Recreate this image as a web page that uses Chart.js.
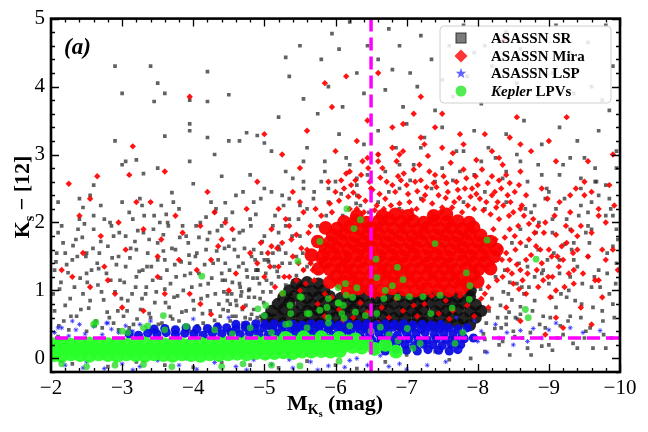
<!DOCTYPE html>
<html>
<head>
<meta charset="utf-8">
<script src="https://cdn.jsdelivr.net/npm/chart.js@4.4.0/dist/chart.umd.min.js"></script>
<style>
  html, body { margin: 0; padding: 0; background: #fff; }
</style>
</head>
<body>
<canvas id="js-chart" width="648" height="432"></canvas>
<script>
'use strict';

// axis ticks and reference lines
const xTicks = [-2, -3, -4, -5, -6, -7, -8, -9, -10];
const yTicks = [0, 1, 2, 3, 4, 5];
const vLineX = -6.5;
const hLineY = 0.30;
const seriesNames = ['ASASSN SR', 'ASASSN Mira', 'ASASSN LSP', 'Kepler LPVs'];

// all point lists are flat: x (M_Ks), y (Ks-[12]), x, y, ...

// ASASSN SR, scattered
const srPoints = [
  -2.9,4.3,-3.4,4.3,-3.0,3.9,-3.5,4.05,-3.6,3.9,-3.45,3.78,-3.95,3.8,-4.2,4.22,-4.2,3.78,-4.5,3.88,
  -3.95,3.45,-3.95,3.35,-2.9,3.2,-3.0,2.85,-3.05,2.9,-3.2,2.92,-3.3,2.72,-3.5,2.8,-3.6,3.27,-4.2,3.25,
  -4.3,3.0,-4.5,3.2,-4.4,2.68,-4.0,2.57,-3.7,2.44,-2.45,2.22,-2.6,2.55,-2.4,2.35,-4.45,2.29,-3.95,2.9,
  -4.75,3.32,-4.9,3.28,-4.65,3.2,-5.0,3.17,-5.1,3.05,-4.8,2.7,-5.3,4.43,-5.35,4.15,-5.5,4.6,-5.55,3.82,
  -5.2,3.55,-5.8,4.4,-5.9,4.0,-5.75,3.6,-6.05,4.55,-6.2,4.95,-6.1,3.7,-6.3,4.2,-6.4,3.9,-6.05,3.3,
  -5.6,3.1,-5.85,2.9,-6.2,2.85,-6.4,3.15,-5.3,2.75,-5.55,2.6,-5.9,2.5,-6.3,2.55,-5.0,2.5,-4.7,2.45,
  -6.45,4.6,-5.95,4.78,-6.6,4.4,-6.75,4.85,-6.9,4.6,-7.05,4.2,-7.2,4.75,-7.35,4.4,-7.6,4.6,-7.8,4.9,
  -7.95,4.5,-8.2,4.3,-8.4,4.8,-8.6,4.55,-8.75,4.2,-9.1,4.9,-9.3,4.5,-9.55,4.65,-9.8,4.9,-9.9,4.3,
  -6.7,3.95,-6.95,3.7,-7.15,4.0,-7.4,3.65,-7.65,3.85,-7.85,4.15,-8.05,3.75,-8.3,3.95,-8.55,4.05,-8.85,3.85,
  -9.05,4.2,-9.35,3.9,-9.6,4.0,-9.85,3.65,-6.6,3.35,-6.85,3.1,-7.0,3.45,-7.25,3.25,-7.5,3.4,-7.7,3.05,
  -7.95,3.35,-8.15,3.1,-8.4,3.3,-8.65,3.5,-8.9,3.15,-9.15,3.4,-9.4,3.2,-9.7,3.35,-9.95,3.05,-9.5,2.95,
  -9.2,2.85,-8.9,2.7,-9.65,2.6,-9.85,2.35,-8.6,2.9,-6.7,2.75,-7.1,2.85,-7.4,2.6,-7.75,2.75,-8.05,2.9,
  -8.35,2.65,-6.9,2.5,-9.45,2.5,-9.95,2.8,-9.75,3.8,-8.1,4.6,-7.5,4.1,-6.8,4.25,
  -5.25,2.4,-5.4,2.65,-5.55,2.9,-5.7,2.45,-5.85,2.75,-6.0,2.6,-6.15,2.95,-6.3,2.4,-6.45,2.7,-6.6,3.0,
  -6.75,2.45,-6.9,2.85,-7.05,2.62,-7.2,3.1,-7.35,2.5,-7.5,2.8,-7.65,2.62,-7.8,3.05,-7.95,2.7,-8.1,2.45,
  -8.25,2.95,-8.4,2.75,-8.55,3.0,-8.7,2.6,-8.85,2.85,-9.0,2.45,-9.15,2.7,-9.3,2.95,-9.45,2.65,-9.6,2.3,
  -5.5,2.25,-5.35,2.05,-5.2,1.85,-8.8,2.25,-9.05,2.05,-9.3,1.9,-9.55,1.95,-9.8,2.55,-9.65,2.8,-9.9,2.1,
  -2.1,1.85,-2.2,1.55,-2.3,1.45,-2.35,1.75,-2.5,1.55,-2.6,1.9,-2.65,1.4,-2.8,1.65,-2.85,1.95,-2.95,1.5,
  -3.05,1.8,-3.1,2.15,-3.2,1.6,-3.3,1.85,-3.35,1.35,-3.45,2.1,-3.5,1.7,-3.6,1.45,-3.65,1.95,-3.75,1.6,
  -3.8,2.2,-3.9,1.8,-3.95,1.4,-2.7,2.25,-3.0,2.3,-3.25,2.35,-3.55,2.25,-2.4,2.05,-2.05,1.3,-2.5,1.25,
  -4.05,1.55,-4.1,2.0,-4.2,1.75,-4.25,2.3,-4.35,1.45,-4.4,1.95,-4.5,1.65,-4.55,2.15,-4.65,1.85,-4.7,1.4,
  -4.8,2.05,-4.85,1.6,-4.95,2.35,-5.0,1.8,-5.05,1.45,-5.15,2.1,-5.2,1.65,-5.3,1.95,-5.35,2.35,-5.45,1.5,
  -5.5,1.8,-5.6,2.2,-5.65,1.4,-5.75,1.95,-5.85,1.6,-5.9,2.3,-6.0,1.75,-6.1,2.1,-6.15,1.5,-6.25,1.9,
  -6.35,2.25,-6.4,1.6,-4.3,2.15,-4.9,1.3,-5.55,1.3,-6.05,1.35,
  -6.6,2.3,-6.9,2.2,-7.2,2.35,-7.5,2.15,-7.8,2.3,-8.1,2.2,-8.4,2.3,-8.6,1.9,-8.75,2.15,-8.85,1.6,
  -8.95,2.35,-9.05,1.85,-9.15,1.45,-9.25,2.05,-9.35,1.7,-9.45,2.25,-9.55,1.5,-9.6,1.9,-9.7,1.3,-9.8,2.1,
  -9.9,1.65,-9.95,1.4,-8.7,1.35,-9.0,1.1,-9.3,1.2,-9.6,1.05,-9.85,0.95,-8.8,0.85,-9.1,0.75,-9.45,0.6,
  -9.75,0.7,-8.6,0.65,-8.95,0.45,-9.2,0.35,-9.5,0.3,-8.5,0.4,-8.3,0.2,-8.7,0.15,-9.0,0.2,-8.1,0.1,
  -7.9,0.0,-8.45,0.05,-8.55,1.1,-8.9,1.25,-9.25,0.9,-8.65,0.95,-8.4,0.6,-9.35,1.45,
  -2.05,.7,-2.12,1.02,-2.18,.55,-2.22,1.38,-2.27,.88,-2.31,1.66,-2.36,.62,-2.41,1.18,-2.45,.95,-2.49,1.5,
  -2.53,.74,-2.57,1.3,-2.62,.48,-2.66,1.08,-2.7,1.72,-2.74,.86,-2.78,1.25,-2.82,.6,-2.86,1.48,-2.9,.98,
  -2.94,.7,-2.97,1.15,-2.15,1.95,-2.38,1.9,-2.6,2.1,-2.83,2.0,-2.25,.42,-2.5,.4,-2.72,.45,-2.95,.42,
  -2.08,1.55,-2.44,1.78,-2.68,1.55,-2.88,1.8,-2.1,2.3,-2.55,2.4,
  -3.02,.62,-3.05,1.35,-3.08,.85,-3.12,1.62,-3.16,.5,-3.19,1.05,-3.22,1.88,-3.26,.72,-3.29,1.3,-3.33,.95,
  -3.36,1.55,-3.4,.6,-3.43,1.15,-3.46,.82,-3.5,1.45,-3.53,2.0,-3.56,.52,-3.6,1.02,-3.63,1.3,-3.66,.75,
  -3.7,1.62,-3.73,.9,-3.76,1.2,-3.8,.55,-3.83,1.42,-3.86,1.0,-3.9,.7,-3.93,1.7,-3.96,1.25,-4.0,.85,
  -4.03,1.5,-4.06,.48,-4.1,1.08,-4.13,.66,-4.16,1.38,-4.2,.92,-4.23,1.85,-4.26,1.18,-4.3,.56,-4.33,1.58,
  -4.36,.8,-4.4,1.25,-4.43,.98,-4.46,2.05,-4.49,.7,-3.15,2.05,-3.38,1.75,-3.62,2.12,-3.85,1.95,-4.08,1.78,
  -4.32,2.2,-3.28,2.25,-3.72,2.3,-4.18,2.08,-3.45,.42,-3.95,.4,-4.25,.42,-3.1,.45,-3.58,1.82,-4.45,1.4,
  -3.2,1.2,-3.68,.62,
  -2.03,.95,-2.07,1.42,-2.11,.48,-2.14,1.12,-2.17,1.7,-2.2,.78,-2.24,1.26,-2.28,.62,-2.33,1.05,-2.37,1.5,
  -2.42,.72,-2.47,1.98,-2.51,1.12,-2.55,.85,-2.59,1.62,-2.63,.55,-2.67,1.32,-2.71,.98,-2.75,2.05,-2.79,.68,
  -2.84,1.15,-2.88,.52,-2.92,1.38,-2.96,1.85,-2.99,.88,
  -3.03,1.12,-3.07,.7,-3.11,1.48,-3.14,.95,-3.18,1.72,-3.21,.58,-3.24,1.28,-3.28,.88,-3.31,2.1,-3.34,1.05,
  -3.38,.66,-3.41,1.35,-3.44,1.9,-3.48,.98,-3.51,.5,-3.54,1.18,-3.58,1.58,-3.61,.82,-3.64,2.0,-3.68,1.1,
  -3.71,.58,-3.74,1.38,-3.78,.92,-3.81,1.78,-3.84,.68,-3.88,1.22,-3.91,.48,-3.94,1.52,-3.98,1.05,-4.01,.72,
  -4.04,1.95,-4.08,1.25,-4.11,.88,-4.14,.52,-4.18,1.6,-4.21,1.1,-4.24,.7,-4.28,1.4,-4.31,.95,-4.34,1.88,
  -4.38,.62,-4.41,1.15,-4.44,1.62,-4.48,.85,-4.51,1.3,-4.54,.95,-4.57,1.75,-4.6,.62,-4.63,1.5,-4.66,1.05,
  -4.69,.72,-4.72,1.62,-4.75,1.3,-4.78,.9,-4.81,1.95,-4.84,1.18,-4.87,1.45,-4.9,.6,-4.93,1.1,-4.96,1.55,
  -4.99,.82,
  -4.35,.5,-4.42,.72,-4.48,.95,-4.55,.62,-4.6,.85,-4.65,1.1,-4.7,.52,-4.74,.78,-4.78,1.0,-4.82,.65,
  -4.86,.9,-4.9,1.18,-4.94,.55,-4.98,.98,-5.02,1.25,-5.06,.72,-5.1,1.1,-5.14,1.35,-5.2,1.2,-5.25,1.4,
  -4.45,1.15,-4.52,.8,-4.68,.98,-4.8,.58,-4.88,1.3,-5.0,1.45,-5.12,1.55,-5.3,1.55,
  -4.52,.55,-4.55,1.12,-4.58,1.6,-4.61,.78,-4.64,1.35,-4.67,.92,-4.7,1.88,-4.73,.6,-4.76,1.2,-4.79,1.02,
  -4.82,1.5,-4.85,.72,-4.88,2.12,-4.91,1.3,-4.94,.88,-4.97,1.72,-5.0,.52,-5.03,1.15,-5.06,1.42,-5.09,.98,
  -5.12,1.95,-5.15,.68,-5.18,1.28,-5.21,1.6,-5.24,.85,-5.27,2.25,-5.3,1.08,-5.33,.58,-5.36,1.4,-5.39,1.8,
  -5.42,.95,-5.45,1.22,-5.48,2.05,-5.51,.75,-5.54,1.55,-5.57,1.0,-5.6,1.35,-5.63,.62,-5.66,1.12,-5.69,2.35,
  -5.72,.88,-5.75,1.25,-5.78,.52,-5.81,1.42,-5.84,1.02,-5.87,2.1,-5.9,.7,-5.93,1.18,-5.96,.92,-5.99,1.62,
  -6.02,.6,-6.05,1.3,-6.08,2.42,-6.11,.82,-6.14,1.2,-6.17,1.98,-6.2,.98,-6.23,.66,-6.26,1.12,-6.29,2.28,
  -6.32,.8,-6.35,1.05,-6.38,.58,-6.41,1.68,-6.44,.9,-6.47,2.15,-4.6,2.4,-4.85,2.3,-5.1,2.45,-5.55,2.5,
  -5.8,2.6,-6.3,2.65,-4.75,.45,-5.25,.45,-5.65,.42,-6.15,.44,-4.95,.62,-5.35,.78,-5.88,.8,-6.4,.72,
  -8.0,.8,-8.04,1.02,-8.08,.36,-8.12,.52,-8.16,.7,-8.2,.88,-8.24,.44,-8.28,.6,-8.32,.78,-8.36,.98,
  -8.4,.5,-8.44,.68,-8.48,.86,-8.52,.32,-8.56,.58,-8.6,.76,-7.9,1.15,-8.25,1.2,-8.45,1.12,-7.7,1.1,
  -8.1,.28,-7.62,.3,-8.35,.25,
  -8.62,1.05,-8.68,1.65,-8.74,.38,-8.8,1.2,-8.86,2.0,-8.92,.62,-8.98,1.45,-9.04,.9,-9.1,2.2,-9.16,.48,
  -9.22,1.68,-9.28,1.0,-9.34,.22,-9.4,1.35,-9.46,.8,-9.52,1.85,-9.58,.45,-9.64,1.2,-9.7,2.4,-9.76,.55,
  -9.82,1.55,-9.88,.3,-9.94,1.1,-9.62,.15,-9.9,.8,-9.3,.62,-8.9,.18,-9.15,1.25,-9.55,2.15,-9.95,1.9,
  -8.33,.45,-8.38,1.3,-8.43,.95,-8.48,1.7,-8.53,.6,-8.58,1.4,-8.63,.3,-8.67,2.2,-8.72,1.05,-8.77,.7,
  -8.82,1.85,-8.87,.5,-8.92,1.3,-8.97,2.5,-9.02,.6,-9.07,1.55,-9.12,.3,-9.17,.95,-9.22,2.35,-9.27,.55,
  -9.32,1.6,-9.37,.85,-9.42,2.1,-9.47,1.1,-9.52,.4,-9.57,1.7,-9.62,.75,-9.67,2.6,-9.72,1.05,-9.77,.35,
  -9.82,1.25,-9.87,2.2,-9.92,.6,-9.97,1.75,-9.4,.15,-9.05,.12,-8.75,.05,-9.8,.15,
  -2.3,-0.08,-2.8,-0.12,-3.2,-0.05,-3.6,-0.1,-4.0,-0.13,-4.4,-0.06,-4.8,-0.1,-5.2,-0.14,-5.6,-0.04,-6.0,-0.1,
  -6.3,-0.15,-2.1,0.32,-6.7,-0.05,-7.0,0.05,-7.4,0.1,-7.6,-0.02
];

// ASASSN SR, crowded core below the Mira cloud
const srDense = [
  -5.1,.5,-5.27,.52,-5.43,.49,-5.6,.5,-5.76,.51,-5.92,.49,-6.08,.5,
  -6.25,.52,-6.41,.49,-6.58,.5,-6.74,.51,-6.9,.49,-7.07,.5,-7.23,.52,-7.4,.49,-7.56,.5,-7.72,.51,-7.89,.49,
  -5.03,.6,-5.19,.62,-5.35,.59,-5.52,.6,-5.68,.61,-5.84,.59,-6.0,.6,
  -6.17,.62,-6.33,.59,-6.49,.6,-6.66,.61,-6.82,.59,-6.98,.6,-7.15,.62,-7.31,.59,-7.47,.6,-7.64,.61,-7.8,.59,-7.97,.6,
  -5.1,.7,-5.27,.72,-5.43,.69,-5.6,.7,-5.76,.71,-5.92,.69,-6.08,.7,
  -6.25,.72,-6.41,.69,-6.58,.7,-6.74,.71,-6.9,.69,-7.07,.7,-7.23,.72,-7.4,.69,-7.56,.7,-7.72,.71,-7.89,.69,-8.05,.7,
  -5.19,.8,-5.35,.82,-5.52,.79,-5.68,.8,-5.84,.81,-6.0,.79,-6.17,.8,
  -6.33,.82,-6.49,.79,-6.66,.8,-6.82,.81,-6.98,.79,-7.15,.8,-7.31,.82,-7.47,.79,-7.64,.8,-7.8,.81,-7.97,.79,
  -5.27,.9,-5.43,.92,-5.6,.89,-5.76,.9,-5.92,.91,-6.08,.89,-6.25,.9,
  -6.41,.92,-6.58,.89,-6.74,.9,-6.9,.91,-7.07,.89,-7.23,.9,-7.4,.92,-7.56,.89,-7.72,.9,-7.89,.91,
  -5.35,1.0,-5.52,1.02,-5.68,.99,-5.84,1.0,-7.9,1.0,
  -5.45,1.1,-5.6,1.12,-5.76,1.1
];

// ASASSN Mira, scattered
const miraPoints = [
  -2.25,2.57,-2.55,2.35,-2.65,2.68,-2.4,2.1,-3.15,3.12,-3.1,2.7,-3.6,2.75,-3.4,2.3,-3.95,3.85,-4.2,2.45,
  -4.3,2.15,-4.1,1.95,-3.85,1.85,-3.55,1.75,-3.3,1.9,-3.05,1.6,-2.75,1.35,-2.3,1.2,-2.55,1.05,-2.9,0.95,
  -3.5,1.2,-3.8,1.45,-4.05,1.3,-4.35,1.65,-4.55,1.9,-4.75,2.2,-4.9,2.6,-5.0,3.3,-5.25,3.0,-4.5,1.0,
  -3.95,0.95,-3.3,0.7,-4.8,1.55,-4.6,1.25,-5.4,2.45,-5.5,2.8,-5.6,3.35,-5.9,2.6,-6.0,3.05,-6.2,2.75,
  -6.3,3.2,-4.25,0.65,-4.7,0.75,-6.15,4.15,-5.85,4.05,-5.95,3.7,-6.6,4.2,-7.2,3.85,-7.5,3.6,-8.55,3.55,
  -8.36,4.68,-2.15,1.3,-4.4,1.75,-8.3,2.95,-8.6,2.75,-8.9,2.5,-9.1,2.9,-9.3,2.4,-9.5,2.6,-9.7,2.2,
  -9.9,3.0,-9.85,2.55,-9.8,1.45,-9.35,1.1,-9.75,0.9,-9.55,2.9,-9.0,3.2,-8.75,3.05,-8.45,3.25,-8.1,3.3,
  -7.8,3.15,-7.5,3.1,-7.2,3.25,-6.9,3.0,-6.6,2.9,-9.92,2.25,-9.97,1.3,-6.8,3.4,-7.1,3.6,-6.45,3.5,
  -9.25,3.55,-6.95,3.45,-7.4,3.4,-7.75,3.3,-8.2,3.05,-8.6,3.15,-9.6,2.45,-9.8,2.0,-9.7,1.15,-9.9,1.6,
  -4.45,2.0,-4.25,1.45,-3.75,2.1,-3.5,1.5,-3.2,2.3,-2.95,2.0,-2.7,1.8,-2.45,1.55,-2.8,1.15,-3.6,.95,
  -4.1,.8,-3.0,.75,-9.45,.75,-9.6,.5,-9.2,.45,-8.95,.35,-9.1,.6,-8.4,.75,-8.6,.55,
  -5.95,2.15,-6.05,2.32,-6.12,2.5,-6.2,2.2,-6.28,2.62,-6.33,2.38,-6.4,2.15,-6.46,2.8,-6.52,2.48,-6.58,2.25,
  -6.63,2.66,-6.7,2.35,-6.75,2.12,-6.8,2.55,-6.86,2.9,-6.9,2.28,-6.96,2.72,-7.02,2.42,-7.07,2.18,-7.12,2.6,
  -7.18,2.85,-7.23,2.33,-7.28,2.52,-7.34,2.14,-7.4,2.7,-7.45,2.4,-7.5,2.22,-7.56,2.58,-7.62,2.88,-7.67,2.3,
  -7.72,2.48,-7.78,2.15,-7.84,2.65,-7.9,2.38,-7.95,2.2,-8.0,2.55,-8.06,2.78,-8.12,2.3,-8.18,2.12,-8.24,2.45,
  -8.3,2.62,-8.36,2.25,-8.42,2.4,-8.5,2.15,-8.58,2.55,-6.15,2.72,-6.38,2.9,-6.6,3.0,-6.95,3.05,-7.3,2.98,
  -7.65,3.02,-7.98,2.92,-8.35,2.85,-6.25,2.44,-6.68,2.2,-7.15,2.46,-7.55,2.36,-7.98,2.42,-8.45,2.58,-6.48,2.6,
  -6.92,2.62,-7.38,2.58,-7.82,2.5,-8.2,2.68,
  -5.92,2.28,-6.0,2.45,-6.08,2.62,-6.18,2.38,-6.22,2.55,-6.3,2.2,-6.36,2.7,-6.42,2.32,-6.5,2.5,-6.55,2.18,
  -6.62,2.42,-6.66,2.8,-6.72,2.6,-6.78,2.25,-6.84,2.45,-6.88,2.68,-6.94,2.16,-7.0,2.55,-7.04,2.3,-7.1,2.78,
  -7.14,2.2,-7.2,2.62,-7.26,2.4,-7.32,2.75,-7.36,2.28,-7.42,2.52,-7.48,2.16,-7.52,2.68,-7.58,2.45,-7.64,2.22,
  -7.7,2.6,-7.74,2.36,-7.8,2.78,-7.86,2.25,-7.92,2.5,-7.97,2.68,-8.03,2.35,-8.08,2.18,-8.14,2.58,-8.2,2.4,
  -8.26,2.22,-8.33,2.5,-8.4,2.7,-8.46,2.3,-8.52,2.45,-8.6,2.2,-8.68,2.4,-6.45,2.95,-6.8,3.1,-7.25,3.15,
  -8.15,1.05,-8.2,1.4,-8.25,1.75,-8.3,2.05,-8.35,1.2,-8.4,1.55,-8.45,1.9,-8.5,1.1,-8.55,1.38,-8.6,1.7,
  -8.65,2.1,-8.7,1.25,-8.75,1.52,-8.8,1.85,-8.85,1.05,-8.9,1.4,-8.95,2.0,-9.0,1.6,-9.05,1.2,-9.1,1.82,
  -9.15,2.3,-9.2,1.45,-9.25,1.7,-9.3,2.15,-9.35,1.3,-9.4,1.6,-9.45,1.95,-9.5,2.4,-8.32,1.62,-8.52,1.8,
  -8.72,1.98,-8.92,1.15,-9.12,1.5,-9.32,1.88,-8.28,2.3,-8.62,2.25,-8.98,2.35,-9.55,1.5,-9.6,1.85,-9.65,1.15,
  -8.42,1.3,-8.82,1.65,-9.22,1.05,-8.58,1.02,-9.38,2.5,-9.7,2.1,-9.75,1.6,-9.48,1.25,-8.68,.95,-9.02,.9,
  -8.12,1.3,-8.18,1.6,-8.22,1.9,-8.27,1.15,-8.34,1.45,-8.38,1.78,-8.44,2.1,-8.48,1.25,-8.53,1.6,-8.57,1.95,
  -8.63,1.15,-8.68,1.45,-8.72,1.75,-8.78,2.05,-8.83,1.3,-8.88,1.6,-8.93,1.85,-8.99,1.2,-9.04,1.5,-9.08,2.1,
  -9.14,1.35,-9.18,1.65,-9.24,1.95,-9.28,1.25,-9.34,1.55,-9.4,1.8,-8.45,1.45,-8.85,1.95,-9.1,1.0,-8.6,1.3,
  -5.0,1.2,-5.05,1.55,-5.1,1.9,-5.15,1.05,-5.2,1.35,-5.25,1.7,-5.3,2.05,-5.35,1.2,-5.4,1.5,-5.45,1.82,
  -5.5,1.0,-5.55,1.3,-5.6,1.6,-5.65,1.95,-5.7,1.15,-5.75,1.45,-5.8,2.1,-5.85,.95,-5.25,.95,-5.45,1.15,
  -5.55,2.15,-5.65,1.4,-5.1,1.65,-5.35,1.95,-5.78,1.75,-4.9,1.4,-5.5,2.3,-5.72,2.2,-5.2,2.2,-4.95,1.7,
  -5.08,1.35,-5.18,1.62,-5.28,1.2,-5.38,1.75,-5.48,1.4,-5.58,1.1,-5.62,1.85,-5.68,1.3,-5.82,1.55,-5.52,1.62,
  -5.75,.8,-5.85,.62,-5.95,.9,-6.05,.72,-6.15,.95,-6.25,.6,-6.35,.82,-6.45,.68,-6.55,.92,-6.65,.75,
  -6.75,.6,-6.85,.88,-6.95,.7,-7.05,.95,-7.15,.62,-7.25,.8,-7.35,.92,-7.45,.66,-7.55,.85,-7.65,.7,
  -7.75,.92,-7.85,.78,-7.95,.62,-8.05,.88,-8.15,.75,-6.1,.55,-6.6,.52,-7.1,.78,-7.6,.58,-8.1,.95
];

// ASASSN Mira, crowded core
const miraDense = [
  -6.17,1.0,-6.32,1.03,-6.49,1.01,-6.64,1.0,-6.8,1.03,-6.97,1.01,-7.12,1.0,-7.28,1.03,-7.45,1.01,-7.6,1.0,-7.77,1.03,
  -5.92,1.12,-6.08,1.11,-6.25,1.13,-6.4,1.1,-6.56,1.12,-6.73,1.14,-6.88,1.11,-7.04,1.12,-7.2,1.1,-7.37,1.13,-7.52,1.11,-7.68,1.12,-7.85,1.1,-8.0,1.13,
  -6.01,1.21,-6.17,1.23,-6.33,1.2,-6.5,1.22,-6.65,1.24,-6.81,1.21,-6.98,1.22,-7.13,1.2,-7.29,1.23,-7.46,1.21,-7.61,1.22,-7.77,1.2,-7.94,1.23,
  -5.76,1.32,-5.92,1.31,-6.09,1.33,-6.24,1.3,-6.4,1.32,-6.57,1.34,-6.72,1.31,-6.88,1.32,-7.05,1.3,-7.2,1.33,-7.36,1.31,-7.53,1.32,-7.68,1.3,-7.84,1.33,-8.01,1.31,-8.18,1.32,
  -5.86,1.41,-6.02,1.43,-6.18,1.4,-6.35,1.42,-6.5,1.44,-6.66,1.41,-6.83,1.42,-6.98,1.4,-7.14,1.43,-7.31,1.41,-7.46,1.42,-7.62,1.4,-7.79,1.43,-7.94,1.41,-8.1,1.42,
  -5.66,1.52,-5.82,1.51,-5.98,1.53,-6.14,1.5,-6.31,1.52,-6.46,1.54,-6.62,1.51,-6.79,1.52,-6.94,1.5,-7.1,1.53,-7.27,1.51,-7.42,1.52,-7.58,1.5,-7.75,1.53,-7.9,1.51,-8.06,1.52,-8.23,1.5,
  -5.86,1.61,-6.02,1.63,-6.18,1.6,-6.35,1.62,-6.5,1.64,-6.66,1.61,-6.83,1.62,-6.98,1.6,-7.14,1.63,-7.31,1.61,-7.46,1.62,-7.62,1.6,-7.79,1.63,-7.94,1.61,-8.1,1.62,-8.27,1.6,
  -5.75,1.72,-5.92,1.71,-6.09,1.73,-6.24,1.7,-6.4,1.72,-6.57,1.74,-6.72,1.71,-6.88,1.72,-7.05,1.7,-7.2,1.73,-7.36,1.71,-7.53,1.72,-7.68,1.7,-7.84,1.73,-8.01,1.71,-8.18,1.72,
  -5.96,1.81,-6.12,1.83,-6.28,1.8,-6.45,1.82,-6.6,1.84,-6.76,1.81,-6.93,1.82,-7.08,1.8,-7.24,1.83,-7.41,1.81,-7.56,1.82,-7.72,1.8,-7.89,1.83,-8.04,1.81,
  -5.86,1.92,-6.02,1.91,-6.19,1.93,-6.34,1.9,-6.5,1.92,-6.67,1.94,-6.82,1.91,-6.98,1.92,-7.15,1.9,-7.3,1.93,-7.46,1.91,-7.63,1.92,-7.78,1.9,-7.94,1.93,
  -6.12,2.01,-6.28,2.03,-6.44,2.0,-6.61,2.02,-6.76,2.04,-6.92,2.01,-7.09,2.02,-7.24,2.0,-7.4,2.03,-7.57,2.01,-7.72,2.02,-7.88,2.0,
  -6.3,2.1,-6.66,2.1,-6.84,2.12,-7.02,2.1,-7.38,2.1,-7.56,2.12
];

// ASASSN LSP, scattered
const lspPoints = [
  -2.05,0.05,-2.2,-0.1,-2.5,-0.05,-2.75,-0.15,-3.0,-0.08,-3.25,-0.12,-3.5,-0.03,-3.8,-0.1,-4.05,-0.16,-4.3,-0.06,
  -4.6,-0.12,-4.85,-0.02,-5.1,-0.09,-5.4,-0.14,-5.65,-0.05,-5.9,-0.11,-6.13,-0.13,-6.2,-0.03,-6.63,0.04,-6.9,-0.08,
  -7.29,-0.1,-7.75,0.12,-8.13,0.09,-8.41,0.38,-8.6,0.41,-8.78,0.44,-9.48,0.38,-9.72,0.41,-8.0,0.25,-8.25,0.5,
  -8.9,0.3,-9.1,0.52,-9.3,0.45,-8.5,0.2,-7.95,0.55,-7.7,0.6,-2.3,0.55,-2.8,0.52,-3.4,0.55,-4.0,0.58,
  -4.5,0.6,-5.0,0.62,-2.1,0.45,-7.0,-0.16,-6.45,-0.1,-3.9,0.0,-2.6,0.02,-8.3,0.3,-2.45,-0.14,-3.15,-0.17,
  -4.75,-0.17,-5.75,-0.17,-6.75,-0.12,-7.55,-0.05,-8.05,0.4,-8.7,0.25,-9.0,0.42,-6.3,0.0,-5.35,-0.02,
  -2.05,.38,-2.15,.45,-2.25,.33,-2.35,.42,-2.48,.36,-2.6,.47,-2.72,.35,-2.85,.43,-2.95,.38,-3.05,.48,
  -2.4,.5,-2.78,.52,-3.15,.4,-3.25,.5,-3.35,.36
];

// ASASSN LSP, crowded band
const lspDense = [
  -3.1,.36,-3.23,.34,-3.36,.37,-3.49,.36,-3.62,.38,-3.75,.35,-3.88,.37,-4.01,.36,-4.14,.34,-4.27,.37,
  -4.4,.36,-4.53,.38,-4.66,.35,-4.79,.37,-4.92,.36,-5.05,.34,-5.18,.37,-5.31,.36,-5.44,.38,-5.57,.35,
  -5.7,.37,-5.83,.36,-5.96,.34,-6.09,.37,-6.22,.36,-6.35,.38,-6.48,.35,-6.61,.37,-6.74,.36,-6.87,.34,
  -7.0,.37,-7.13,.36,-7.26,.38,-7.39,.35,-7.52,.37,-7.65,.36,-7.78,.34,
  -3.45,.43,-3.6,.44,-3.75,.42,-3.9,.45,-4.05,.43,-4.2,.44,-4.34,.46,-4.47,.45,-4.6,.43,-4.73,.46,
  -4.86,.44,-4.99,.45,-5.12,.43,-5.25,.46,-5.38,.44,-5.51,.45,-5.64,.43,-5.77,.46,-5.9,.44,-6.03,.45,
  -6.16,.43,-6.29,.46,-6.42,.44,-6.55,.45,-6.68,.43,-6.81,.46,-6.94,.44,-7.07,.45,-7.2,.43,-7.33,.46,
  -7.46,.44,-7.59,.45,-7.72,.43,-7.85,.45,
  -4.6,.5,-4.74,.49,-4.88,.51,-5.01,.5,-5.14,.51,-5.27,.49,-5.4,.5,-5.53,.49,-5.66,.51,
  -5.79,.5,-5.92,.51,-6.05,.49,-6.18,.51,-6.31,.5,-6.44,.51,-6.57,.49,-6.7,.51,-6.83,.5,-6.96,.51,
  -7.09,.49,-7.22,.5,-7.35,.49,-7.48,.5,
  -5.6,.28,-5.73,.27,-5.86,.29,-5.99,.28,-6.12,.27,-6.25,.29,-6.38,.28,-6.51,.27,-6.64,.29,-6.77,.28,
  -6.9,.27,-7.03,.29,-7.16,.28,-7.29,.27,-7.42,.29,-7.55,.28,-7.68,.27,-7.81,.29,-7.94,.3,
  -6.2,.2,-6.33,.19,-6.46,.21,-6.59,.2,-6.72,.19,-6.85,.21,-6.98,.2,-7.11,.19,-7.24,.21,-7.37,.2,
  -7.5,.19,-7.63,.21,-7.76,.2,
  -6.55,.12,-6.7,.11,-6.85,.13,-7.0,.12,-7.15,.11,-7.3,.13,-7.45,.12,-7.6,.11,-7.72,.13
];

// Kepler LPVs, scattered
const keplerPoints = [
  -2.63,.53,-3.58,.63,-3.36,.48,-3.08,.38,-4.91,.73,-5.02,.78,-5.0,.63,-5.37,.66,-5.35,.51,-5.52,.9,
  -5.63,.66,-5.9,.88,-5.9,.6,-6.04,.81,-6.12,.59,-6.15,.93,-4.12,1.21,
  -6.16,2.2,-6.35,2.04,-6.26,1.91,-5.78,1.72,-5.47,1.43,-7.4,1.69,-8.13,1.74,-8.82,1.46,-7.84,1.26,-6.87,1.34,
  -6.95,1.16,-6.57,1.46,-6.58,1.19,-6.04,1.04,-6.14,1.1,-6.3,1.04,-6.24,.9,-6.04,.82,-5.88,.75,-5.26,.96,
  -5.5,.91,-5.36,.78,-5.6,.66,-5.78,.71,-6.11,.78,-6.28,.68,-6.42,.63,-6.58,.66,-6.7,1.0,-6.8,1.07,
  -6.68,.88,-6.87,.9,-7.04,.91,-7.23,.91,-7.47,.93,-7.34,.66,-7.64,.74,-7.88,.87,-8.67,.72,-8.71,.6,
  -6.09,.66,-7.89,1.07,-7.79,.38,-7.68,.22,-7.19,.22,-7.09,.15,-6.88,.26,-6.63,.46,-7.01,.44,
  -4.3,.42,-4.8,.45,-5.3,.5,-5.6,.45,-5.9,.52,-6.2,.48,-6.5,.4,-6.75,.35,-3.0,.4,-3.3,.45,
  -2.6,.5,-3.6,.42,-5.1,.38,-3.9,.47,-4.55,.36,
  -2.15,-0.08,-2.9,-0.1,-3.7,-0.12,-4.4,-0.12,-5.1,-0.1,-5.5,-0.11,-4.7,-0.08,-3.3,-0.09,-2.5,-0.12,-6.05,-0.04
];

// Kepler LPVs, crowded band
const keplerDense = [
  -2.05,.05,-2.15,.04,-2.28,.06,-2.41,.05,-2.54,.04,-2.67,.06,-2.8,.05,-2.93,.04,-3.06,.06,-3.19,.05,
  -3.32,.04,-3.45,.06,-3.58,.05,-3.71,.04,-3.84,.06,-3.97,.05,-4.1,.04,-4.23,.06,-4.36,.05,-4.49,.06,
  -4.62,.07,-4.75,.06,-4.88,.08,-5.01,.07,-5.14,.08,-5.27,.09,-5.4,.08,-5.53,.1,-5.66,.1,-5.8,.11,
  -5.93,.1,-6.06,.11,
  -2.08,.13,-2.21,.14,-2.34,.12,-2.47,.13,-2.6,.14,-2.73,.12,-2.86,.13,-2.99,.14,-3.12,.12,-3.25,.13,
  -3.38,.14,-3.51,.12,-3.64,.13,-3.77,.14,-3.9,.12,-4.03,.13,-4.16,.14,-4.29,.13,-4.42,.14,-4.55,.15,
  -4.68,.14,-4.81,.15,-4.94,.16,-5.07,.15,-5.2,.16,-5.33,.17,-5.46,.16,-5.59,.18,-5.72,.17,-5.85,.18,
  -5.98,.17,-6.11,.18,-6.24,.17,-6.37,.16,
  -2.05,.21,-2.15,.22,-2.28,.2,-2.41,.21,-2.54,.22,-2.67,.2,-2.8,.21,-2.93,.22,-3.06,.2,-3.19,.21,
  -3.32,.22,-3.45,.2,-3.58,.21,-3.71,.22,-3.84,.2,-3.97,.21,-4.1,.22,-4.23,.21,-4.36,.22,-4.49,.23,
  -4.62,.22,-4.75,.23,-4.88,.24,-5.01,.23,-5.14,.24,-5.27,.25,-5.4,.24,-5.53,.26,-5.66,.25,-5.79,.26,
  -5.92,.25,-6.05,.26,-6.18,.25,-6.31,.24,-6.44,.22,
  -5.3,.3,-5.55,.31,-5.8,.31,-6.05,.3,-6.28,.28,-6.55,.14,-6.7,.2,-6.85,.1
];

// ------------------------------------------------------------
const serif = "'Liberation Serif', 'DejaVu Serif', serif";

const toXY = function(flat) {
  const out = [];
  for (let i = 0; i < flat.length; i += 2) {
    out.push({ x: flat[i], y: flat[i + 1] });
  }
  return out;
};

const fmtTick = function(v) {
  return v < 0 ? '\u2212' + Math.abs(v) : String(v);
};

const drawLegend = function(ctx) {
  const bx = 440, by = 26, bw = 171, bh = 77;
  ctx.save();
  ctx.fillStyle = 'rgba(255,255,255,0.85)';
  ctx.strokeStyle = '#d0d0d0';
  ctx.lineWidth = 1;
  ctx.beginPath();
  ctx.roundRect(bx, by, bw, bh, 4);
  ctx.fill();
  ctx.stroke();

  const mx = 461;
  const rows = [38, 56, 73, 91];
  // SR square
  ctx.fillStyle = 'rgba(90,90,90,0.8)';
  ctx.strokeStyle = 'rgba(40,40,40,0.9)';
  ctx.fillRect(mx - 5, rows[0] - 5, 10, 10);
  ctx.strokeRect(mx - 5, rows[0] - 5, 10, 10);
  // Mira diamond
  ctx.fillStyle = 'rgba(255,30,30,0.9)';
  ctx.beginPath();
  ctx.moveTo(mx, rows[1] - 6.5);
  ctx.lineTo(mx + 6.5, rows[1]);
  ctx.lineTo(mx, rows[1] + 6.5);
  ctx.lineTo(mx - 6.5, rows[1]);
  ctx.closePath();
  ctx.fill();
  // LSP star
  ctx.fillStyle = 'rgba(60,60,255,0.8)';
  ctx.beginPath();
  for (let i = 0; i < 10; i++) {
    const r = i % 2 === 0 ? 5.5 : 2.3;
    const a = -Math.PI / 2 + i * Math.PI / 5;
    const px = mx + r * Math.cos(a), py = rows[2] + 0.5 + r * Math.sin(a);
    if (i === 0) ctx.moveTo(px, py); else ctx.lineTo(px, py);
  }
  ctx.closePath();
  ctx.fill();
  // Kepler circle
  ctx.fillStyle = 'rgba(40,230,40,0.8)';
  ctx.beginPath();
  ctx.arc(mx, rows[3], 5.5, 0, Math.PI * 2);
  ctx.fill();

  ctx.fillStyle = '#000';
  ctx.textBaseline = 'middle';
  ctx.textAlign = 'left';
  ctx.font = 'bold 15px ' + serif;
  ctx.fillText(seriesNames[0], 491, rows[0] + 1);
  ctx.fillText(seriesNames[1], 491, rows[1] + 1);
  ctx.fillText(seriesNames[2], 491, rows[2] + 1);
  ctx.font = 'italic bold 15px ' + serif;
  const kw = ctx.measureText('Kepler').width;
  ctx.fillText('Kepler', 491, rows[3] + 1);
  ctx.font = 'bold 15px ' + serif;
  ctx.fillText(' LPVs', 491 + kw, rows[3] + 1);
  ctx.restore();
};

const overlayPlugin = {
  id: 'overlay',
  afterDatasetsDraw(chart) {
    const ctx = chart.ctx;
    const area = chart.chartArea;
    const xs = chart.scales.x;
    const ys = chart.scales.y;

    // magenta dashed reference lines
    ctx.save();
    ctx.beginPath();
    ctx.rect(area.left, area.top, area.right - area.left, area.bottom - area.top);
    ctx.clip();
    ctx.strokeStyle = '#ff00ff';
    ctx.lineWidth = 3.5;
    ctx.setLineDash([13, 6]);
    const vx = xs.getPixelForValue(vLineX);
    ctx.beginPath();
    ctx.moveTo(vx, area.top);
    ctx.lineTo(vx, area.bottom);
    ctx.stroke();
    const hy = ys.getPixelForValue(hLineY);
    ctx.beginPath();
    ctx.moveTo(area.left + 4, hy);
    ctx.lineTo(area.right, hy);
    ctx.stroke();
    ctx.restore();

    drawLegend(ctx);

    // panel label
    ctx.save();
    ctx.fillStyle = '#000';
    ctx.font = 'italic bold 23px ' + serif;
    ctx.textBaseline = 'alphabetic';
    ctx.fillText('(a)', 64, 54);
    ctx.restore();

    // frame and inward ticks
    ctx.save();
    ctx.strokeStyle = '#000';
    ctx.lineWidth = 1.3;
    ctx.beginPath();
    for (let v = -10; v <= -2.0001; v += 0.2) {
      const val = Math.round(v * 10) / 10;
      const len = xTicks.includes(val) ? 8 : 4;
      const px = Math.round(xs.getPixelForValue(val)) + 0.5;
      ctx.moveTo(px, area.bottom);
      ctx.lineTo(px, area.bottom - len);
      ctx.moveTo(px, area.top);
      ctx.lineTo(px, area.top + len);
    }
    for (let v = -0.2; v <= 5.0001; v += 0.2) {
      const val = Math.round(v * 10) / 10;
      const len = yTicks.includes(val) ? 8 : 4;
      const py = Math.round(ys.getPixelForValue(val)) + 0.5;
      ctx.moveTo(area.left, py);
      ctx.lineTo(area.left + len, py);
      ctx.moveTo(area.right, py);
      ctx.lineTo(area.right - len, py);
    }
    ctx.stroke();
    ctx.lineWidth = 2.6;
    ctx.strokeRect(area.left, area.top, area.right - area.left, area.bottom - area.top);
    ctx.restore();

    // axis titles with subscripts
    ctx.save();
    ctx.fillStyle = '#000';
    ctx.textBaseline = 'alphabetic';
    const big = 'bold 22px ' + serif;
    const mid = 'bold 14px ' + serif;
    const small = 'bold 10px ' + serif;
    ctx.font = big;
    const wM = ctx.measureText('M').width;
    const wRest = ctx.measureText(' (mag)').width;
    ctx.font = mid;
    const wK = ctx.measureText('K').width;
    ctx.font = small;
    const wS = ctx.measureText('s').width;
    let tx = 335 - (wM + wK + wS + wRest) / 2;
    const base = 410;
    ctx.font = big; ctx.fillText('M', tx, base); tx += wM;
    ctx.font = mid; ctx.fillText('K', tx, base + 4); tx += wK;
    ctx.font = small; ctx.fillText('s', tx, base + 7); tx += wS;
    ctx.font = big; ctx.fillText(' (mag)', tx, base);

    ctx.translate(29, 197);
    ctx.rotate(-Math.PI / 2);
    ctx.font = big;
    const wK2 = ctx.measureText('K').width;
    const wTail = ctx.measureText(' \u2212 [12]').width;
    ctx.font = mid;
    const wS2 = ctx.measureText('s').width;
    let ty = -(wK2 + wS2 + wTail) / 2;
    ctx.font = big; ctx.fillText('K', ty, 0); ty += wK2;
    ctx.font = mid; ctx.fillText('s', ty, 5); ty += wS2;
    ctx.font = big; ctx.fillText(' \u2212 [12]', ty, 0);
    ctx.restore();
  }
};

document.addEventListener('DOMContentLoaded', function() {
  const ctx = document.getElementById('js-chart').getContext('2d');
  new Chart(ctx, {
    type: 'scatter',
    data: {
      datasets: [
        {
          label: seriesNames[3], data: toXY(keplerPoints), order: 0,
          pointStyle: 'circle', pointRadius: 3.4, pointBorderWidth: 0,
          backgroundColor: 'rgba(30,215,30,0.75)'
        },
        {
          label: seriesNames[3] + ' core', data: toXY(keplerDense), order: 1,
          pointStyle: 'circle', pointRadius: 7, pointBorderWidth: 0,
          backgroundColor: 'rgba(40,255,40,0.95)'
        },
        {
          label: seriesNames[2], data: toXY(lspPoints), order: 2,
          pointStyle: 'star', pointRadius: 2.4, pointBorderWidth: 1,
          borderColor: 'rgba(40,40,255,0.75)', backgroundColor: 'rgba(40,40,255,0.75)'
        },
        {
          label: seriesNames[2] + ' core', data: toXY(lspDense), order: 3,
          pointStyle: 'circle', pointRadius: 4.6, pointBorderWidth: 0,
          backgroundColor: 'rgba(12,12,225,0.95)'
        },
        {
          label: seriesNames[1], data: toXY(miraPoints), order: 4,
          pointStyle: 'rectRot', pointRadius: 3.2, pointBorderWidth: 0,
          backgroundColor: 'rgba(255,0,0,0.92)'
        },
        {
          label: seriesNames[1] + ' core', data: toXY(miraDense), order: 5,
          pointStyle: 'circle', pointRadius: 6.8, pointBorderWidth: 0,
          backgroundColor: 'rgba(250,0,0,0.95)'
        },
        {
          label: seriesNames[0], data: toXY(srPoints), order: 6,
          pointStyle: 'rect', pointRadius: 2.6, pointBorderWidth: 0,
          backgroundColor: 'rgba(45,45,45,0.75)'
        },
        {
          label: seriesNames[0] + ' core', data: toXY(srDense), order: 7,
          pointStyle: 'circle', pointRadius: 6.2, pointBorderWidth: 0,
          backgroundColor: 'rgba(12,12,12,0.9)'
        }
      ]
    },
    options: {
      responsive: false,
      animation: false,
      events: [],
      layout: { padding: { top: 18, right: 28, left: 0, bottom: 0 } },
      plugins: {
        legend: { display: false },
        tooltip: { enabled: false }
      },
      scales: {
        x: {
          type: 'linear', min: -10, max: -2, reverse: true,
          afterBuildTicks: (s) => { s.ticks = xTicks.map((v) => ({ value: v })); },
          afterFit: (s) => { s.height = 60; },
          grid: { display: false, drawTicks: false },
          border: { display: false },
          ticks: {
            color: '#000', padding: 4, maxRotation: 0, autoSkip: false,
            font: { family: serif, size: 21 },
            callback: (v) => fmtTick(v)
          }
        },
        y: {
          type: 'linear', min: -0.2, max: 5,
          afterBuildTicks: (s) => { s.ticks = yTicks.map((v) => ({ value: v })); },
          afterFit: (s) => { s.width = 51; },
          grid: { display: false, drawTicks: false },
          border: { display: false },
          ticks: {
            color: '#000', padding: 6, autoSkip: false,
            font: { family: serif, size: 21 },
            callback: (v) => fmtTick(v)
          }
        }
      }
    },
    plugins: [overlayPlugin]
  });
});
</script>
</body>
</html>
